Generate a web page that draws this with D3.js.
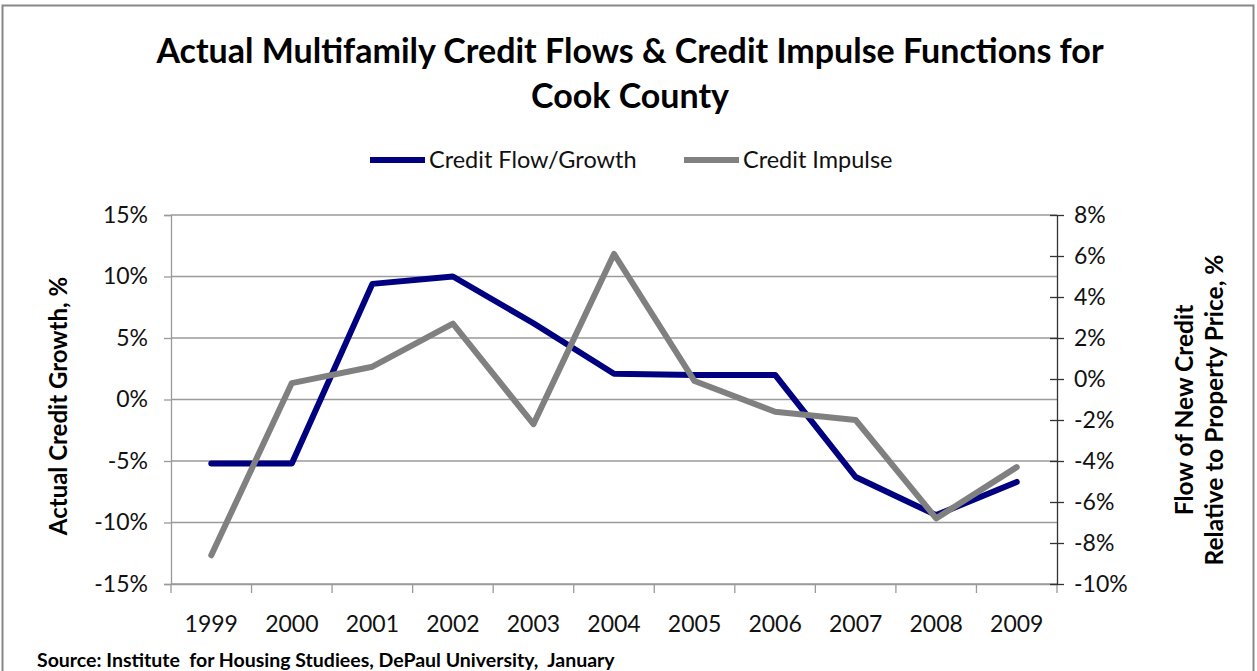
<!DOCTYPE html>
<html>
<head>
<meta charset="utf-8">
<script src="https://cdn.jsdelivr.net/npm/d3@7"></script>
<style>
  html, body { margin: 0; padding: 0; background: #fff; }
  svg { display: block; font-family: Lato, "Open Sans", sans-serif; }
</style>
</head>
<body>
<svg id="chart" width="1257" height="671"></svg>
<script>
// Years on the category axis
const years = ["1999","2000","2001","2002","2003","2004","2005","2006","2007","2008","2009"];
// Actual credit growth, % (left axis)
const creditGrowth = [-5.2, -5.2, 9.4, 10.0, 6.2, 2.1, 2.0, 2.0, -6.3, -9.4, -6.7];
// Flow of new credit relative to property price, % (right axis)
const creditImpulse = [-8.6, -0.2, 0.6, 2.7, -2.2, 6.1, -0.1, -1.6, -2.0, -6.8, -4.3];
// Axis ticks
const leftTicks = [-15, -10, -5, 0, 5, 10, 15];
const rightTicks = [-10, -8, -6, -4, -2, 0, 2, 4, 6, 8];

const svg = d3.select("#chart");
const W = 1257, H = 671;
const plot = { left: 171, right: 1057, top: 215, bottom: 584 };
const FONT = "Lato, sans-serif";

// chart frame
svg.append("rect")
  .attr("x", 2.5).attr("y", 5.5).attr("width", W - 6).attr("height", H - 4)
  .attr("fill", "#fff").attr("stroke", "#888").attr("stroke-width", 2);

const x = d3.scaleBand().domain(years).range([plot.left, plot.right]);
const yL = d3.scaleLinear().domain([-15, 15]).range([plot.bottom, plot.top]);
const yR = d3.scaleLinear().domain([-10, 8]).range([plot.bottom, plot.top]);

// horizontal gridlines
svg.append("g").selectAll("line").data(leftTicks).join("line")
  .attr("x1", plot.left).attr("x2", plot.right)
  .attr("y1", d => yL(d)).attr("y2", d => yL(d))
  .attr("stroke", "#9a9a9a").attr("stroke-width", 1.3);

// left axis
const gL = svg.append("g").attr("transform", `translate(${plot.left},0)`)
  .call(d3.axisLeft(yL).tickValues(leftTicks).tickSize(7).tickPadding(16)
    .tickFormat(d => d + "%"));
gL.select(".domain").attr("stroke", "#9a9a9a").attr("stroke-width", 1.3);
gL.selectAll(".tick line").attr("stroke", "#9a9a9a").attr("stroke-width", 1.3);
gL.selectAll(".tick text").attr("font-size", 23).attr("fill", "#111")
  .attr("font-family", FONT);

// category axis
const gB = svg.append("g").attr("transform", `translate(0,${plot.bottom})`)
  .call(d3.axisBottom(x).tickSize(0).tickPadding(32));
gB.select(".domain").attr("stroke", "#9a9a9a").attr("stroke-width", 1.3);
gB.selectAll(".tick text").attr("font-size", 23).attr("fill", "#111")
  .attr("font-family", FONT);
// tick marks between categories
const bounds = years.map(d => x(d)).concat([plot.right]);
svg.append("g").selectAll("line").data(bounds).join("line")
  .attr("x1", d => d).attr("x2", d => d)
  .attr("y1", plot.bottom).attr("y2", plot.bottom + 9)
  .attr("stroke", "#9a9a9a").attr("stroke-width", 1.3);

// right axis with crossing ticks
const gR = svg.append("g").attr("transform", `translate(${plot.right},0)`)
  .call(d3.axisRight(yR).tickValues(rightTicks).tickSize(0).tickPadding(17)
    .tickFormat(d => d + "%"));
gR.select(".domain").attr("stroke", "#333").attr("stroke-width", 1.3);
gR.selectAll(".tick text").attr("font-size", 23).attr("fill", "#111")
  .attr("font-family", FONT);
gR.selectAll(".tick").append("line")
  .attr("x1", -7).attr("x2", 7).attr("stroke", "#333").attr("stroke-width", 1.3);

// series lines
const cx = d => x(d) + x.bandwidth() / 2;
const lineL = d3.line().x((d, i) => cx(years[i])).y(d => yL(d));
const lineR = d3.line().x((d, i) => cx(years[i])).y(d => yR(d));

svg.append("path").datum(creditGrowth).attr("d", lineL)
  .attr("fill", "none").attr("stroke", "#000080").attr("stroke-width", 6)
  .attr("stroke-linejoin", "round").attr("stroke-linecap", "round");
svg.append("path").datum(creditImpulse).attr("d", lineR)
  .attr("fill", "none").attr("stroke", "#808080").attr("stroke-width", 6)
  .attr("stroke-linejoin", "round").attr("stroke-linecap", "round");

// title
const title = svg.append("text").attr("text-anchor", "middle")
  .attr("font-family", FONT).attr("font-weight", "bold")
  .attr("font-size", 34).attr("fill", "#000");
title.append("tspan").attr("x", 630).attr("y", 63)
  .text("Actual Multifamily Credit Flows & Credit Impulse Functions for");
title.append("tspan").attr("x", 630).attr("y", 108).text("Cook County");

// legend
const legend = [
  { name: "Credit Flow/Growth", color: "#000080", x: 370 },
  { name: "Credit Impulse", color: "#808080", x: 684 }
];
const lg = svg.append("g").selectAll("g").data(legend).join("g")
  .attr("transform", d => `translate(${d.x},160)`);
lg.append("line").attr("x1", 0).attr("x2", 55).attr("y1", 0).attr("y2", 0)
  .attr("stroke", d => d.color).attr("stroke-width", 6);
lg.append("text").attr("x", 59).attr("y", 8).attr("font-size", 23.5)
  .attr("font-family", FONT).attr("fill", "#111").text(d => d.name);

// axis titles
svg.append("text").attr("transform", "translate(67,406) rotate(-90)")
  .attr("text-anchor", "middle").attr("font-size", 24).attr("font-weight", "bold")
  .attr("font-family", FONT).text("Actual Credit Growth, %");
const rt = svg.append("text").attr("transform", "translate(1193,410) rotate(-90)")
  .attr("text-anchor", "middle").attr("font-size", 24.5).attr("font-weight", "bold")
  .attr("font-family", FONT);
rt.append("tspan").attr("x", 0).attr("y", 0).text("Flow of New Credit");
rt.append("tspan").attr("x", 0).attr("y", 30).text("Relative to Property Price, %");

// source note
svg.append("text").attr("x", 37).attr("y", 667).attr("font-size", 19.5)
  .attr("font-weight", "bold").attr("font-family", FONT)
  .attr("xml:space", "preserve")
  .text("Source: Institute  for Housing Studiees, DePaul University,  January");
</script>
</body>
</html>
